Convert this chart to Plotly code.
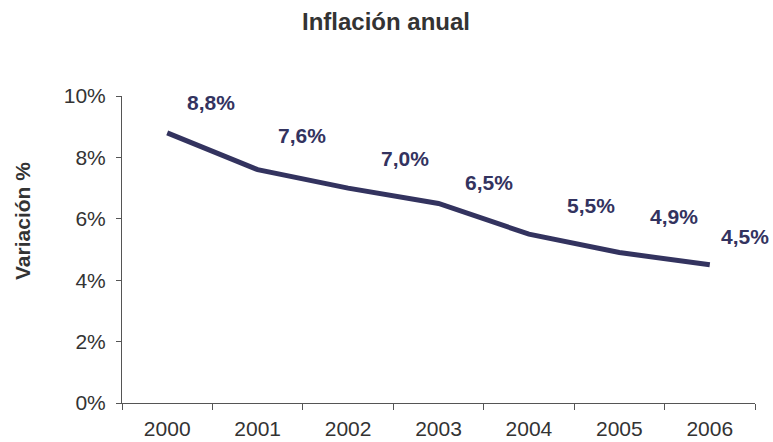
import plotly.graph_objects as go

years = ["2000", "2001", "2002", "2003", "2004", "2005", "2006"]
inflation = [8.8, 7.6, 7.0, 6.5, 5.5, 4.9, 4.5]
labels = ["8,8%", "7,6%", "7,0%", "6,5%", "5,5%", "4,9%", "4,5%"]
y_ticks = [0, 2, 4, 6, 8, 10]
y_tick_text = ["0%", "2%", "4%", "6%", "8%", "10%"]

# label offsets in pixels (style only)
label_dx = [44, 44, 57, 50, 62, 55, 35]
label_dy = [30, 34, 30, 21, 29, 36, 28]

NAVY = "#33335f"
FONT = "Liberation Sans, Arial, sans-serif"

fig = go.Figure()
fig.add_trace(go.Scatter(
    x=years, y=inflation, mode="lines",
    line=dict(color=NAVY, width=5),
    hoverinfo="skip", showlegend=False,
))

for i, (v, t, dx, dy) in enumerate(zip(inflation, labels, label_dx, label_dy)):
    fig.add_annotation(x=i, y=v, xref="x", yref="y", text=t, showarrow=False,
                       xshift=dx, yshift=dy,
                       font=dict(family=FONT, size=21, color=NAVY, weight="bold"))

W, H = 773, 442
L, T = 122, 96
R = W - 755
B = H - 403
pw, ph = W - L - R, H - T - B

fig.add_annotation(xref="paper", yref="paper",
                   x=(22 - L) / pw, y=(H - B - 221) / ph,
                   xanchor="center", yanchor="middle",
                   text="Variación %", textangle=-90, showarrow=False,
                   font=dict(family=FONT, size=21, color="#333333", weight="bold"))

fig.update_layout(
    width=W, height=H,
    margin=dict(l=L, r=R, t=T, b=B, autoexpand=False),
    paper_bgcolor="white", plot_bgcolor="white",
    title=dict(text="Inflación anual", x=386 / W, xref="container", xanchor="center",
               y=1 - 22 / H, yref="container", yanchor="middle",
               font=dict(family=FONT, size=24, color="#333333", weight="bold")),
    font=dict(family=FONT, size=21, color="#333333"),
    xaxis=dict(type="category", range=[-0.5, 6.5], tickson="boundaries",
               ticks="outside", ticklen=6, tickcolor="#555555",
               ticklabelstandoff=7, automargin=False,
               showline=True, linecolor="#555555", linewidth=1,
               showgrid=False, zeroline=False, fixedrange=True,
               tickfont=dict(size=21, color="#333333")),
    yaxis=dict(range=[0, 10], tickvals=y_ticks, ticktext=y_tick_text,
               ticks="outside", ticklen=5, tickcolor="#555555",
               ticklabelstandoff=6, automargin=False,
               showline=True, linecolor="#555555", linewidth=1,
               showgrid=False, zeroline=False, fixedrange=True,
               tickfont=dict(size=21, color="#333333")),
)

fig.write_html("out.html",
               config={"displayModeBar": False},
               post_script="document.body.style.margin='0';"
                           "document.body.style.overflow='hidden';")
